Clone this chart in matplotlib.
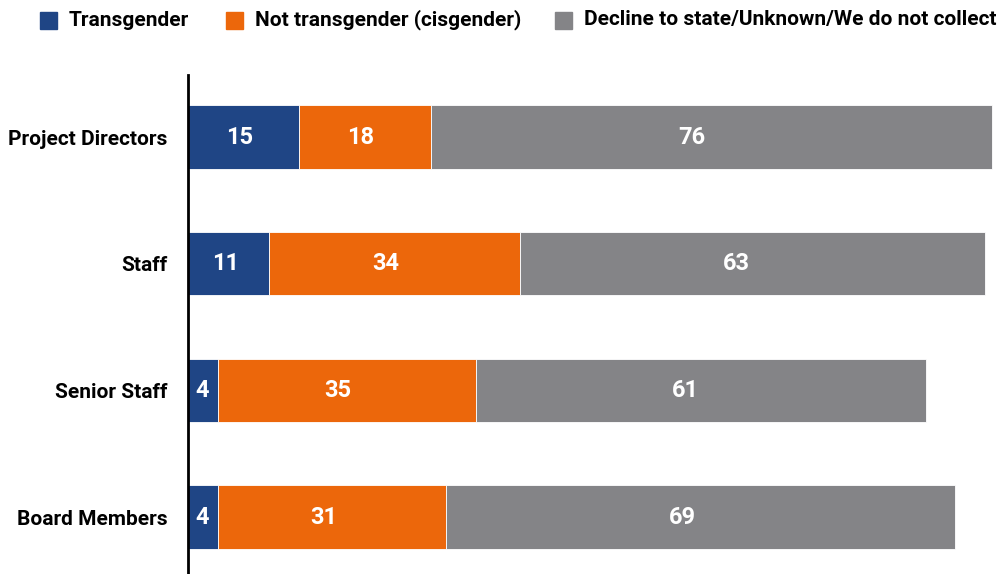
import numpy as np
import matplotlib.pyplot as plt
from matplotlib.patches import Rectangle

plt.rcParams['font.family'] = ['Roboto', 'DejaVu Sans']

roles = ["Project Directors", "Staff", "Senior Staff", "Board Members"]
transgender = [15, 11, 4, 4]
cisgender = [18, 34, 35, 31]
unknown = [76, 63, 61, 69]

series_names = ["Transgender", "Not transgender (cisgender)",
                "Decline to state/Unknown/We do not collect"]
colors = ["#1f4585", "#ec670b", "#848487"]

W, H = 1006, 574
fig = plt.figure(figsize=(W / 100, H / 100), dpi=100)
ax = fig.add_axes([188 / W, 0, 1 - 188 / W, 1 - 75 / H])

y = np.arange(len(roles))
left = np.zeros(len(roles))
for vals, col in zip([transgender, cisgender, unknown], colors):
    vals = np.array(vals)
    ax.barh(y, vals, left=left, height=0.5, color=col, edgecolor="white", linewidth=0.6)
    # labels sit a touch left of the segment middle
    for yi, l, v in zip(y, left, vals):
        ax.text(l + v * 0.465, yi, str(v), ha="center", va="center",
                color="white", fontsize=17, fontweight="semibold")
    left = left + vals

ax.set_xlim(0, 818 / 7.376)
ax.set_ylim(3.45, -0.49)
ax.set_yticks(y)
ax.set_yticklabels(roles, fontsize=15, fontweight="semibold")
ax.tick_params(axis="y", length=0, pad=15)
ax.set_xticks([])
for s in ["top", "right", "bottom"]:
    ax.spines[s].set_visible(False)
ax.spines["left"].set_linewidth(2)
ax.spines["left"].set_color("black")

# legend drawn along the top
legend_x = [40, 226, 555]
for lx, name, col in zip(legend_x, series_names, colors):
    fig.patches.append(Rectangle((lx / W, 1 - 29 / H), 17 / W, 17 / H,
                                 transform=fig.transFigure, color=col))
    fig.text((lx + 29) / W, 1 - 20 / H, name, ha="left", va="center",
             fontsize=15, fontweight="semibold")

fig.savefig("out.png", dpi=100)
